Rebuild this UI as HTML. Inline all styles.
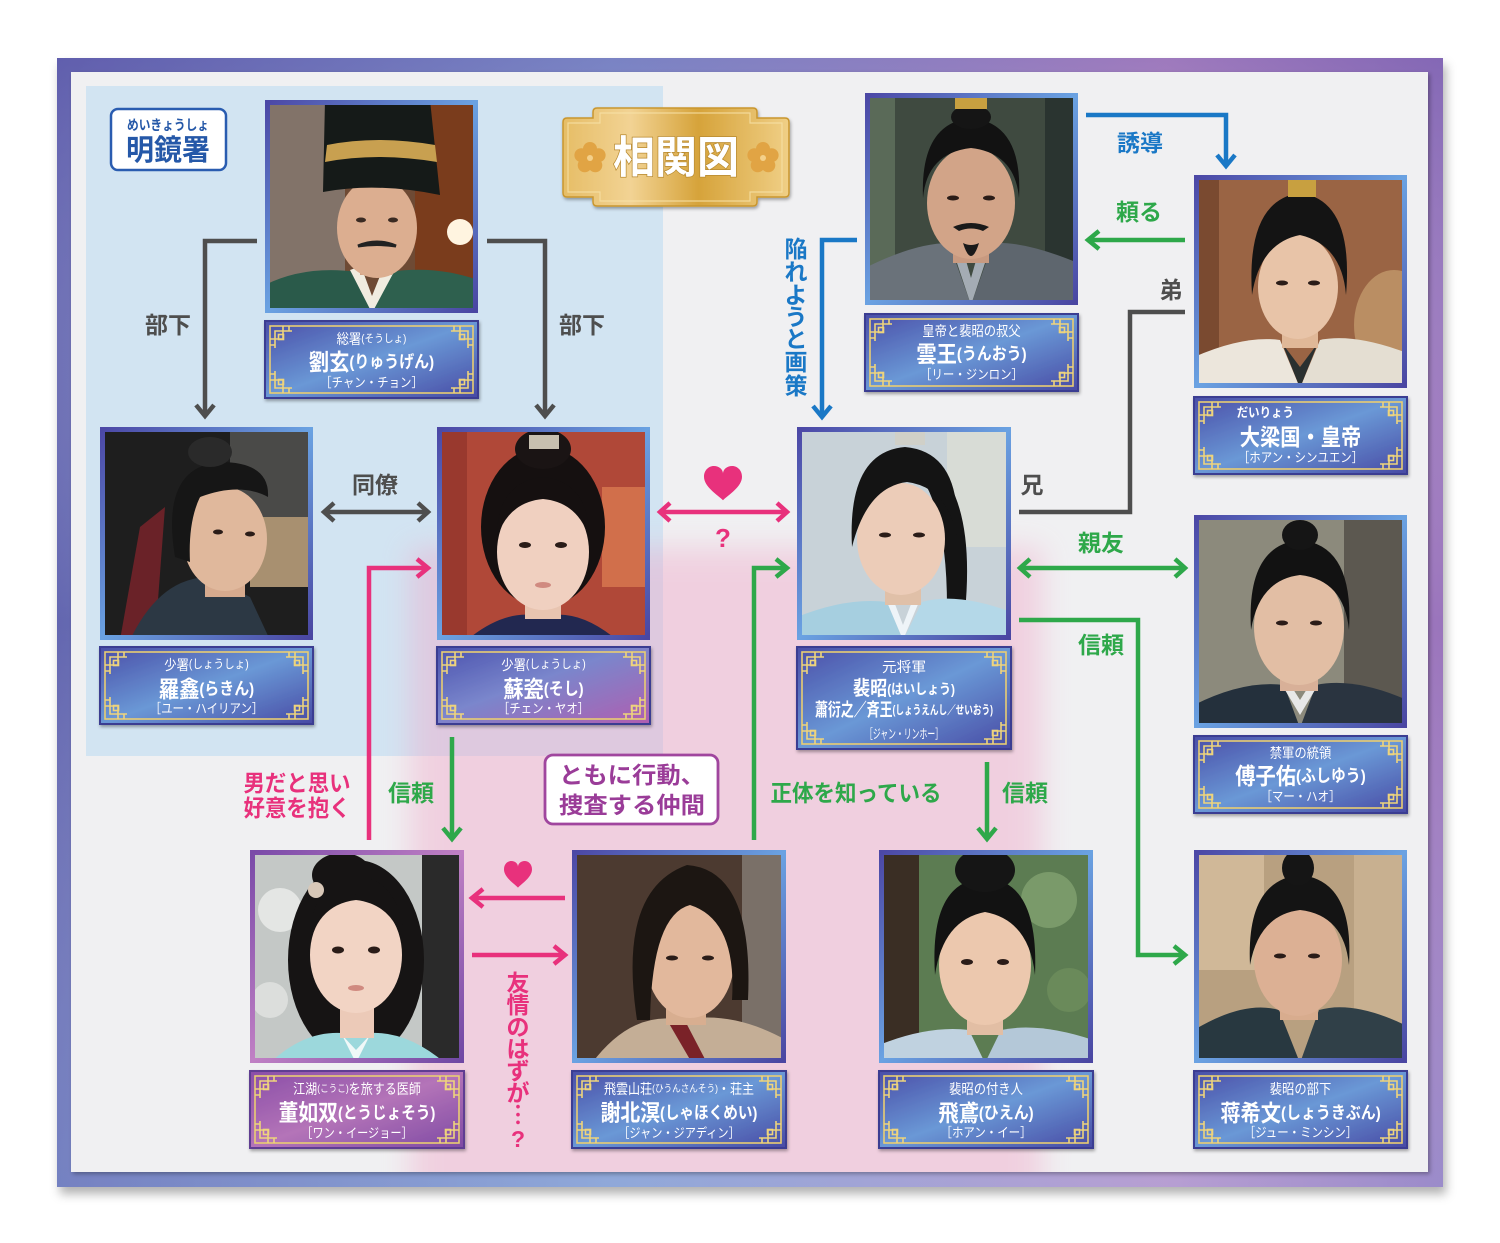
<!DOCTYPE html>
<html><head><meta charset="utf-8">
<style>
html,body{margin:0;padding:0;background:#fff;}
svg{display:block;font-family:"Liberation Sans","Noto Sans CJK JP",sans-serif;}
.lbl{font-weight:bold;font-size:23px;dominant-baseline:central;text-anchor:middle;}
.ct text{dominant-baseline:central;}
</style></head><body>
<svg width="1500" height="1243" viewBox="0 0 1500 1243" xmlns="http://www.w3.org/2000/svg">
<defs>
  <linearGradient id="frh" x1="0" y1="0" x2="1" y2="0">
    <stop offset="0" stop-color="#6466b0"/><stop offset=".4" stop-color="#8a9ed2"/><stop offset=".8" stop-color="#c290c8"/><stop offset="1" stop-color="#9a74bc"/>
  </linearGradient>
  <linearGradient id="frv" x1="0" y1="0" x2="0" y2="1">
    <stop offset="0" stop-color="#5a50a8" stop-opacity=".35"/><stop offset=".5" stop-color="#fff" stop-opacity="0"/><stop offset="1" stop-color="#9cc0ea" stop-opacity=".3"/>
  </linearGradient>
  <filter id="sh" x="-5%" y="-5%" width="110%" height="115%"><feDropShadow dx="3" dy="7" stdDeviation="5" flood-color="#000" flood-opacity=".3"/></filter>
  <filter id="sh2" x="-5%" y="-5%" width="110%" height="110%"><feDropShadow dx="2" dy="2" stdDeviation="2" flood-color="#000" flood-opacity=".3"/></filter>
  <filter id="sh3" x="-10%" y="-10%" width="120%" height="130%"><feDropShadow dx="1" dy="2" stdDeviation="1.5" flood-color="#000" flood-opacity=".35"/></filter>
  <filter id="blur" x="-20%" y="-20%" width="140%" height="140%"><feGaussianBlur stdDeviation="14"/></filter>
  <clipPath id="paper"><rect x="71" y="72" width="1357" height="1100"/></clipPath>
  <linearGradient id="cb" x1="0" y1="0" x2="1" y2="1">
    <stop offset="0" stop-color="#4a4ea8"/><stop offset=".5" stop-color="#6a98d6"/><stop offset="1" stop-color="#474aa4"/>
  </linearGradient>
  <linearGradient id="cs" x1="0" y1="0" x2="1" y2="1">
    <stop offset="0" stop-color="#4a52ae"/><stop offset=".45" stop-color="#7a86cc"/><stop offset="1" stop-color="#b05eb0"/>
  </linearGradient>
  <linearGradient id="cp" x1="0" y1="0" x2="1" y2="1">
    <stop offset="0" stop-color="#8a4ea8"/><stop offset=".5" stop-color="#b474b8"/><stop offset="1" stop-color="#7e4aa4"/>
  </linearGradient>
  <linearGradient id="pb" x1="0" y1="0" x2="1" y2="1">
    <stop offset="0" stop-color="#4c48a6"/><stop offset=".5" stop-color="#6aa2e2"/><stop offset="1" stop-color="#4a46a2"/>
  </linearGradient>
  <linearGradient id="pp" x1="0" y1="0" x2="1" y2="1">
    <stop offset="0" stop-color="#7a4aa8"/><stop offset=".5" stop-color="#c080c4"/><stop offset="1" stop-color="#7048a4"/>
  </linearGradient>
  <linearGradient id="gold" x1="0" y1="0" x2="1" y2="0">
    <stop offset="0" stop-color="#e6bd66"/><stop offset=".3" stop-color="#f2d394"/><stop offset=".6" stop-color="#d6a33a"/><stop offset="1" stop-color="#f0cf86"/>
  </linearGradient>
  <g id="cn" fill="none" stroke="#eed47c" stroke-width="1.6">
    <path d="M10,27 V10 H27"/>
    <path d="M5,18 H18 V5"/>
    <rect x="13.5" y="13.5" width="5" height="5"/>
    <path d="M5,24 H10 M24,5 V10"/>
  </g>
  <path id="heart" d="M0,0.9 C-0.3,0.6 -1,0.15 -1,-0.4 C-1,-0.8 -0.72,-1 -0.48,-1 C-0.2,-1 0,-0.8 0,-0.58 C0,-0.8 0.2,-1 0.48,-1 C0.72,-1 1,-0.8 1,-0.4 C1,0.15 0.3,0.6 0,0.9Z"/>
</defs>

<!-- frame -->
<rect x="57" y="58" width="1386" height="1129" fill="url(#frh)" filter="url(#sh)"/>
<rect x="57" y="58" width="1386" height="1129" fill="url(#frv)"/>
<rect x="71" y="72" width="1357" height="1100" fill="#f0f0f2" filter="url(#sh2)"/>

<g clip-path="url(#paper)">
  <rect x="86" y="86" width="577" height="670" fill="#d2e4f2"/>
  <rect x="410" y="548" width="632" height="680" fill="#f0a4c6" opacity=".42" filter="url(#blur)"/>
</g>

<!-- title plaque -->
<path d="M597,108 H753 Q757,108 757,112 V118 H785 Q789,118 789,122 V193 Q789,197 785,197 H757 V202 Q757,206 753,206 H597 Q593,206 593,202 V197 H567 Q563,197 563,193 V122 Q563,118 567,118 H593 V112 Q593,108 597,108Z" fill="url(#gold)" stroke="#c9962e" stroke-width="1.5" filter="url(#sh3)"/>
<path d="M600,113 H750 V123 H782 V192 H750 V201 H600 V192 H568 V123 H600Z" fill="none" stroke="#f6e2a8" stroke-width="1.2" opacity=".8"/>
<g fill="#e1a444">
  <g transform="translate(590,158)"><circle cx="0" cy="-9" r="7"/><circle cx="8.6" cy="-2.8" r="7"/><circle cx="5.3" cy="7.3" r="7"/><circle cx="-5.3" cy="7.3" r="7"/><circle cx="-8.6" cy="-2.8" r="7"/><circle r="3" fill="#f4d08a"/></g>
  <g transform="translate(763,158)"><circle cx="0" cy="-9" r="7"/><circle cx="8.6" cy="-2.8" r="7"/><circle cx="5.3" cy="7.3" r="7"/><circle cx="-5.3" cy="7.3" r="7"/><circle cx="-8.6" cy="-2.8" r="7"/><circle r="3" fill="#f4d08a"/></g>
</g>
<text x="676" y="158" font-size="44" font-weight="bold" fill="#fff" text-anchor="middle" dominant-baseline="central" textLength="126" lengthAdjust="spacingAndGlyphs" style="paint-order:stroke" stroke="#b88a30" stroke-width="1.5">相関図</text>

<!-- 明鏡署 -->
<rect x="111" y="109" width="115" height="61" rx="7" fill="#fff" stroke="#2a5cb0" stroke-width="2.5"/>
<text x="168" y="125" font-size="14" font-weight="bold" fill="#2558a8" text-anchor="middle" dominant-baseline="central" textLength="82" lengthAdjust="spacingAndGlyphs">めいきょうしょ</text>
<text x="168" y="151" font-size="29" font-weight="bold" fill="#2558a8" text-anchor="middle" dominant-baseline="central" textLength="84" lengthAdjust="spacingAndGlyphs">明鏡署</text>

<!-- connectors -->
<g fill="none" stroke-width="4.5" stroke-linejoin="miter">
  <g stroke="#4e4e4e">
    <path d="M257,241 H205 V414"/><polyline points="196,405 205,416 214,405"/>
    <path d="M487,241 H545 V414"/><polyline points="536,405 545,416 554,405"/>
    <path d="M326,512 H426"/><polyline points="334,503 324,512 334,521"/><polyline points="418,503 428,512 418,521"/>
    <path d="M1185,312 H1130 V512 H1019"/>
  </g>
  <g stroke="#1a78c6">
    <path d="M1086,115 H1226 V164"/><polyline points="1217,155 1226,166 1235,155"/>
    <path d="M857,240 H822 V415"/><polyline points="813,406 822,417 831,406"/>
  </g>
  <g stroke="#2ea84a">
    <path d="M1185,240 H1090"/><polyline points="1099,231 1088,240 1099,249"/>
    <path d="M452,737 V837"/><polyline points="443,828 452,839 461,828"/>
    <path d="M754,840 V568 H785"/><polyline points="776,559 787,568 776,577"/>
    <path d="M987,762 V837"/><polyline points="978,828 987,839 996,828"/>
    <path d="M1022,568 H1183"/><polyline points="1030,559 1020,568 1030,577"/><polyline points="1175,559 1185,568 1175,577"/>
    <path d="M1019,620 H1138 V955 H1183"/><polyline points="1174,946 1185,955 1174,964"/>
  </g>
  <g stroke="#e8317c">
    <path d="M662,512 H785"/><polyline points="670,503 660,512 670,521"/><polyline points="777,503 787,512 777,521"/>
    <path d="M369,840 V568 H426"/><polyline points="417,559 428,568 417,577"/>
    <path d="M565,898 H474"/><polyline points="483,889 472,898 483,907"/>
    <path d="M472,955 H563"/><polyline points="554,946 565,955 554,964"/>
  </g>
</g>
<use href="#heart" transform="translate(723,484) scale(19,18)" fill="#e8317c"/>
<use href="#heart" transform="translate(518,875) scale(14,14)" fill="#e8317c"/>
<text x="723" y="538" font-size="26" font-weight="bold" fill="#e8317c" text-anchor="middle" dominant-baseline="central">?</text>

<!-- labels -->
<text class="lbl" x="168" y="325" fill="#4e4e4e">部下</text>
<text class="lbl" x="582" y="325" fill="#4e4e4e">部下</text>
<text class="lbl" x="375" y="485" fill="#4e4e4e">同僚</text>
<text class="lbl" x="1140" y="143" fill="#1a78c6">誘導</text>
<text class="lbl" x="1139" y="212" fill="#2ea84a">頼る</text>
<text class="lbl" x="1171" y="290" fill="#4e4e4e">弟</text>
<text class="lbl" x="1032" y="485" fill="#4e4e4e">兄</text>
<text class="lbl" x="1101" y="543" fill="#2ea84a">親友</text>
<text class="lbl" x="1101" y="645" fill="#2ea84a">信頼</text>
<text class="lbl" x="411" y="793" fill="#2ea84a">信頼</text>
<text class="lbl" x="856" y="793" fill="#2ea84a" textLength="171" lengthAdjust="spacingAndGlyphs">正体を知っている</text>
<text class="lbl" x="1025" y="793" fill="#2ea84a">信頼</text>
<text class="lbl" x="297" y="783" fill="#e8317c" textLength="107" lengthAdjust="spacingAndGlyphs">男だと思い</text>
<text class="lbl" x="297" y="808" fill="#e8317c" textLength="107" lengthAdjust="spacingAndGlyphs">好意を抱く</text>
<text class="lbl" fill="#1a78c6" font-size="23">
  <tspan x="796" y="249">陥</tspan><tspan x="796" y="272">れ</tspan><tspan x="796" y="295">よ</tspan><tspan x="796" y="317">う</tspan><tspan x="796" y="339">と</tspan><tspan x="796" y="362">画</tspan><tspan x="796" y="386">策</tspan>
</text>
<text class="lbl" fill="#e8317c" font-size="22">
  <tspan x="518" y="983">友</tspan><tspan x="518" y="1005">情</tspan><tspan x="518" y="1027">の</tspan><tspan x="518" y="1049">は</tspan><tspan x="518" y="1071">ず</tspan><tspan x="518" y="1093">が</tspan><tspan x="518" y="1115">︙</tspan><tspan x="518" y="1139">?</tspan>
</text>
<rect x="545" y="755" width="173" height="69" rx="8" fill="#fff" stroke="#a0469e" stroke-width="2.8"/>
<text class="lbl" x="632" y="775" font-size="25" fill="#9a3c98" textLength="146" lengthAdjust="spacingAndGlyphs">ともに行動、</text>
<text class="lbl" x="632" y="805" font-size="25" fill="#9a3c98" textLength="146" lengthAdjust="spacingAndGlyphs">捜査する仲間</text>

<!-- PHOTOS -->
<!-- 1 劉玄 -->
<svg x="265" y="100" width="213" height="213" viewBox="0 0 213 213">
  <rect width="213" height="213" fill="#6e4a34"/>
  <rect width="80" height="213" fill="#8a8480" opacity=".7"/>
  <rect x="150" width="63" height="213" fill="#7a3c1c"/>
  <circle cx="195" cy="132" r="13" fill="#fff4e0"/>
  <path d="M0,213 V185 Q40,165 92,172 L107,213Z" fill="#2a5a4a"/>
  <path d="M213,213 V180 Q170,165 125,172 L107,213Z" fill="#2e604e"/>
  <path d="M85,170 L107,213 L130,170 L119,166 L107,196 L96,166Z" fill="#f0ece0"/>
  <rect x="95" y="150" width="32" height="25" fill="#d2a284"/>
  <ellipse cx="112" cy="128" rx="40" ry="50" fill="#dcae90"/>
  <path d="M60,0 H165 L175,95 Q112,82 58,92Z" fill="#151a18"/>
  <path d="M62,45 Q112,35 170,45 L172,62 Q112,52 60,62Z" fill="#c8a050"/>
  <path d="M93,146 Q112,138 131,146 Q112,143 93,146Z" fill="#222" stroke="#222" stroke-width="3"/>
  <ellipse cx="96" cy="120" rx="5" ry="2.5" fill="#3a2a22"/><ellipse cx="128" cy="120" rx="5" ry="2.5" fill="#3a2a22"/>
</svg>
<!-- 2 雲王 -->
<svg x="865" y="93" width="213" height="212" viewBox="0 0 213 212">
  <rect width="213" height="212" fill="#3f4a40"/>
  <rect width="30" height="212" fill="#5a6a58"/>
  <rect x="180" width="33" height="212" fill="#2a3430"/>
  <path d="M0,212 V175 Q50,150 84,150 L106,212Z" fill="#6a727a"/>
  <path d="M213,212 V170 Q160,148 128,150 L106,212Z" fill="#5e666e"/>
  <path d="M86,152 L106,212 L126,152 L116,150 L106,185 L96,150Z" fill="#a4acb4"/>
  <rect x="88" y="140" width="36" height="30" fill="#c89a80"/>
  <ellipse cx="106" cy="110" rx="44" ry="56" fill="#d2a488"/>
  <path d="M58,105 Q55,30 106,25 Q158,30 154,105 Q150,60 106,55 Q62,60 58,105Z" fill="#121212"/>
  <ellipse cx="106" cy="24" rx="20" ry="12" fill="#151515"/>
  <rect x="90" y="0" width="32" height="16" fill="#c8a040"/>
  <path d="M88,134 Q106,126 124,134 L118,138 Q106,133 94,138Z" fill="#1a1a1a"/>
  <path d="M98,150 Q106,176 114,150 Q106,154 98,150Z" fill="#1a1a1a"/>
  <ellipse cx="88" cy="105" rx="6" ry="2.5" fill="#2a1c18"/><ellipse cx="124" cy="105" rx="6" ry="2.5" fill="#2a1c18"/>
</svg>
<!-- 3 皇帝 -->
<svg x="1194" y="175" width="213" height="213" viewBox="0 0 213 213">
  <rect width="213" height="213" fill="#9a6444"/>
  <ellipse cx="200" cy="150" rx="40" ry="55" fill="#c8a070" opacity=".7"/>
  <rect width="25" height="213" fill="#7a4a30"/>
  <path d="M0,213 V182 Q50,160 86,165 L106,213Z" fill="#ece6dc"/>
  <path d="M213,213 V178 Q160,158 126,165 L106,213Z" fill="#e4ded2"/>
  <path d="M88,168 L106,213 L124,168 L106,192Z" fill="#2a3030"/>
  <rect x="88" y="145" width="36" height="28" fill="#e0b898"/>
  <ellipse cx="104" cy="112" rx="40" ry="52" fill="#e8c4a8"/>
  <path d="M58,120 Q52,25 106,18 Q160,25 152,120 Q148,70 106,60 Q66,68 58,120Z" fill="#141414"/>
  <rect x="94" y="0" width="28" height="22" fill="#c8a040"/>
  <ellipse cx="88" cy="108" rx="6" ry="2.5" fill="#2a1c18"/><ellipse cx="120" cy="108" rx="6" ry="2.5" fill="#2a1c18"/>
</svg>
<!-- 4 羅鑫 -->
<svg x="100" y="427" width="213" height="213" viewBox="0 0 213 213">
  <rect width="213" height="213" fill="#1e1e1e"/>
  <rect x="130" width="83" height="100" fill="#4a4a48"/>
  <rect x="150" y="90" width="63" height="70" fill="#a89070"/>
  <path d="M20,213 L40,100 L65,80 L55,213Z" fill="#6a2228"/>
  <path d="M30,213 Q60,150 110,150 L150,170 L170,213Z" fill="#2c3844"/>
  <rect x="105" y="140" width="40" height="30" fill="#d6aa8e"/>
  <ellipse cx="125" cy="112" rx="42" ry="52" fill="#e0b89c"/>
  <path d="M75,130 Q60,40 120,35 Q170,35 168,70 Q140,55 100,70 Q88,95 90,135Z" fill="#161616"/>
  <ellipse cx="110" cy="25" rx="22" ry="15" fill="#2a2a2a"/>
  <ellipse cx="118" cy="105" rx="5" ry="2.5" fill="#2a1c18"/><ellipse cx="150" cy="107" rx="5" ry="2.5" fill="#2a1c18"/>
</svg>
<!-- 5 蘇瓷 -->
<svg x="437" y="427" width="213" height="213" viewBox="0 0 213 213">
  <rect width="213" height="213" fill="#b04838"/>
  <rect x="165" y="60" width="48" height="100" fill="#e88a58" opacity=".6"/>
  <rect width="30" height="213" fill="#8a3028" opacity=".6"/>
  <path d="M30,213 Q70,180 106,190 Q140,180 180,213Z" fill="#222850"/>
  <ellipse cx="106" cy="100" rx="62" ry="80" fill="#151010"/>
  <rect x="88" y="160" width="36" height="32" fill="#e8c4b0"/>
  <ellipse cx="106" cy="125" rx="46" ry="58" fill="#f0d0c0"/>
  <path d="M60,110 Q60,55 106,50 Q152,55 152,110 Q140,75 106,72 Q72,75 60,110Z" fill="#151010"/>
  <ellipse cx="106" cy="22" rx="28" ry="20" fill="#1a1414"/>
  <rect x="92" y="8" width="30" height="14" fill="#c8c0b0"/>
  <ellipse cx="88" cy="118" rx="6" ry="3" fill="#2a1c18"/><ellipse cx="124" cy="118" rx="6" ry="3" fill="#2a1c18"/>
  <ellipse cx="106" cy="158" rx="8" ry="3" fill="#d08a80"/>
</svg>
<!-- 6 裴昭 -->
<svg x="797" y="427" width="214" height="213" viewBox="0 0 214 213">
  <rect width="214" height="213" fill="#c8d2d8"/>
  <rect x="150" width="64" height="120" fill="#d8dcd6"/>
  <path d="M140,40 Q178,80 168,185 L150,180 Q150,100 130,60Z" fill="#141414"/>
  <path d="M0,213 V190 Q50,170 90,175 L106,213Z" fill="#a6cfe0"/>
  <path d="M214,213 V185 Q160,165 125,175 L106,213Z" fill="#b4d8e8"/>
  <path d="M90,175 L106,213 L122,175 L116,172 L106,198 L96,172Z" fill="#eef4f8"/>
  <rect x="88" y="148" width="36" height="30" fill="#e0c0a8"/>
  <ellipse cx="104" cy="112" rx="44" ry="56" fill="#ecccb8"/>
  <path d="M55,120 Q50,25 108,20 Q165,25 160,110 Q150,60 110,55 Q70,60 55,120Z" fill="#141414"/>
  <rect x="98" y="2" width="30" height="16" fill="#d0d0c8"/>
  <ellipse cx="88" cy="108" rx="6" ry="2.5" fill="#2a1c18"/><ellipse cx="122" cy="108" rx="6" ry="2.5" fill="#2a1c18"/>
</svg>
<!-- 7 傅子佑 -->
<svg x="1194" y="515" width="213" height="213" viewBox="0 0 213 213">
  <rect width="213" height="213" fill="#8c8a7c"/>
  <rect x="150" width="63" height="213" fill="#5c5850"/>
  <path d="M0,213 V190 Q50,165 90,170 L106,213Z" fill="#24303c"/>
  <path d="M213,213 V185 Q160,162 122,170 L106,213Z" fill="#2a3440"/>
  <path d="M88,170 L106,200 L124,170 L118,166 L106,185 L94,166Z" fill="#e8e8e8"/>
  <rect x="86" y="148" width="38" height="28" fill="#d8b098"/>
  <ellipse cx="105" cy="112" rx="45" ry="58" fill="#e2bea4"/>
  <path d="M57,115 Q52,30 106,25 Q160,30 155,115 Q150,65 106,60 Q65,65 57,115Z" fill="#121212"/>
  <ellipse cx="106" cy="20" rx="18" ry="15" fill="#151515"/>
  <ellipse cx="88" cy="108" rx="6" ry="2.5" fill="#2a1c18"/><ellipse cx="122" cy="108" rx="6" ry="2.5" fill="#2a1c18"/>
</svg>
<!-- 8 董如双 -->
<svg x="250" y="850" width="214" height="213" viewBox="0 0 214 213">
  <rect width="214" height="213" fill="#c4c8c6"/>
  <circle cx="30" cy="60" r="22" fill="#e4e6e4"/><circle cx="20" cy="150" r="18" fill="#dcdedc"/>
  <rect x="172" width="42" height="213" fill="#2a2a2a"/>
  <ellipse cx="106" cy="110" rx="68" ry="100" fill="#161414"/>
  <path d="M20,213 Q60,175 106,185 Q150,175 195,213Z" fill="#9cd8dc"/>
  <path d="M92,185 L106,213 L120,185 L106,200Z" fill="#f0f8f8"/>
  <rect x="90" y="150" width="34" height="38" fill="#eccab8"/>
  <ellipse cx="106" cy="105" rx="46" ry="58" fill="#f2d4c4"/>
  <path d="M58,105 Q58,30 106,25 Q155,30 155,105 Q148,55 106,50 Q64,55 58,105Z" fill="#161414"/>
  <ellipse cx="92" cy="25" rx="30" ry="22" fill="#161414"/>
  <circle cx="66" cy="40" r="8" fill="#d8c8b8"/>
  <ellipse cx="88" cy="100" rx="6" ry="3.5" fill="#2a1c18"/><ellipse cx="124" cy="100" rx="6" ry="3.5" fill="#2a1c18"/>
  <ellipse cx="106" cy="138" rx="8" ry="3" fill="#d08a80"/>
</svg>
<!-- 9 謝北溟 -->
<svg x="572" y="850" width="214" height="213" viewBox="0 0 214 213">
  <rect width="214" height="213" fill="#4c3a30"/>
  <rect x="170" width="44" height="213" fill="#7a7068"/>
  <path d="M20,213 Q60,160 110,170 Q160,160 214,190 V213Z" fill="#c4ae96"/>
  <path d="M95,170 L120,213 L135,213 L110,165Z" fill="#7a2228"/>
  <rect x="94" y="145" width="40" height="30" fill="#d8ae90"/>
  <ellipse cx="118" cy="110" rx="44" ry="58" fill="#e2b89c"/>
  <path d="M65,170 Q45,40 115,15 Q182,20 176,150 L160,150 Q165,70 118,55 Q80,65 78,170Z" fill="#1c1612"/>
  <ellipse cx="100" cy="108" rx="6" ry="2.5" fill="#2a1c18"/><ellipse cx="136" cy="108" rx="6" ry="2.5" fill="#2a1c18"/>
</svg>
<!-- 10 飛鳶 -->
<svg x="879" y="850" width="214" height="213" viewBox="0 0 214 213">
  <rect width="214" height="213" fill="#5c7c52"/>
  <circle cx="170" cy="50" r="28" fill="#7a9a6a"/><circle cx="190" cy="140" r="22" fill="#6a8a5a"/>
  <rect width="40" height="213" fill="#3a2e24"/>
  <path d="M0,213 V195 Q50,175 90,180 L106,213Z" fill="#c0d2e0"/>
  <path d="M214,213 V190 Q160,172 122,180 L106,213Z" fill="#b4c8d8"/>
  <rect x="88" y="150" width="36" height="35" fill="#e2bea4"/>
  <ellipse cx="106" cy="115" rx="46" ry="60" fill="#ecc8ae"/>
  <path d="M56,125 Q50,30 106,28 Q160,30 156,125 Q150,70 106,62 Q64,70 56,125Z" fill="#121212"/>
  <ellipse cx="106" cy="20" rx="30" ry="22" fill="#151515"/>
  <ellipse cx="88" cy="112" rx="6" ry="3" fill="#2a1c18"/><ellipse cx="124" cy="112" rx="6" ry="3" fill="#2a1c18"/>
</svg>
<!-- 11 蒋希文 -->
<svg x="1194" y="850" width="213" height="213" viewBox="0 0 213 213">
  <rect width="213" height="213" fill="#b8a080"/>
  <rect width="70" height="120" fill="#d0b898"/>
  <rect x="160" width="53" height="213" fill="#c8b090"/>
  <path d="M0,213 V180 Q50,150 85,160 L106,213Z" fill="#283840"/>
  <path d="M213,213 V176 Q160,150 125,160 L106,213Z" fill="#304048"/>
  <rect x="86" y="140" width="38" height="30" fill="#d8ac8e"/>
  <ellipse cx="104" cy="110" rx="44" ry="56" fill="#dcb094"/>
  <path d="M56,115 Q52,30 106,25 Q160,30 155,115 Q150,65 106,60 Q65,65 56,115Z" fill="#141414"/>
  <ellipse cx="104" cy="18" rx="16" ry="18" fill="#151515"/>
  <ellipse cx="86" cy="106" rx="6" ry="2.5" fill="#2a1c18"/><ellipse cx="120" cy="106" rx="6" ry="2.5" fill="#2a1c18"/>
</svg>

<!-- photo borders -->
<g fill="none" stroke="url(#pb)" stroke-width="5">
  <rect x="267.5" y="102.5" width="208" height="208"/>
  <rect x="867.5" y="95.5" width="208" height="207"/>
  <rect x="1196.5" y="177.5" width="208" height="208"/>
  <rect x="102.5" y="429.5" width="208" height="208"/>
  <rect x="439.5" y="429.5" width="208" height="208"/>
  <rect x="799.5" y="429.5" width="209" height="208"/>
  <rect x="1196.5" y="517.5" width="208" height="208"/>
  <rect x="574.5" y="852.5" width="209" height="208"/>
  <rect x="881.5" y="852.5" width="209" height="208"/>
  <rect x="1196.5" y="852.5" width="208" height="208"/>
</g>
<rect x="252.5" y="852.5" width="209" height="208" fill="none" stroke="url(#pp)" stroke-width="5"/>

<!-- CARDS -->
<!-- 劉玄 -->
<g transform="translate(265,321)" filter="url(#sh3)">
  <rect width="213" height="77" fill="url(#cb)" stroke="#3b3e92" stroke-width="2"/>
  <rect x="5" y="5" width="203" height="67" fill="none" stroke="#e9cd72" stroke-width="1.6"/>
  <use href="#cn"/><use href="#cn" transform="translate(213,0) scale(-1,1)"/><use href="#cn" transform="translate(0,77) scale(1,-1)"/><use href="#cn" transform="translate(213,77) scale(-1,-1)"/>
  <g class="ct" transform="translate(106.5,0) scale(0.88,1)" text-anchor="middle" fill="#fff">
    <text y="18" font-size="14">総署<tspan font-size="11">(そうしょ)</tspan></text>
    <text y="41" font-size="23" font-weight="bold">劉玄<tspan font-size="17">(りゅうげん)</tspan></text>
    <text y="62" font-size="13">［チャン・チョン］</text>
  </g>
</g>
<!-- 雲王 -->
<g transform="translate(865,314)" filter="url(#sh3)">
  <rect width="213" height="77" fill="url(#cb)" stroke="#3b3e92" stroke-width="2"/>
  <rect x="5" y="5" width="203" height="67" fill="none" stroke="#e9cd72" stroke-width="1.6"/>
  <use href="#cn"/><use href="#cn" transform="translate(213,0) scale(-1,1)"/><use href="#cn" transform="translate(0,77) scale(1,-1)"/><use href="#cn" transform="translate(213,77) scale(-1,-1)"/>
  <g class="ct" transform="translate(106.5,0) scale(0.88,1)" text-anchor="middle" fill="#fff">
    <text y="17" font-size="14">皇帝と裴昭の叔父</text>
    <text y="40" font-size="23" font-weight="bold">雲王<tspan font-size="17">(うんおう)</tspan></text>
    <text y="61" font-size="13">［リー・ジンロン］</text>
  </g>
</g>
<!-- 皇帝 -->
<g transform="translate(1194,397)" filter="url(#sh3)">
  <rect width="213" height="77" fill="url(#cb)" stroke="#3b3e92" stroke-width="2"/>
  <rect x="5" y="5" width="203" height="67" fill="none" stroke="#e9cd72" stroke-width="1.6"/>
  <use href="#cn"/><use href="#cn" transform="translate(213,0) scale(-1,1)"/><use href="#cn" transform="translate(0,77) scale(1,-1)"/><use href="#cn" transform="translate(213,77) scale(-1,-1)"/>
  <g class="ct" transform="translate(106.5,0) scale(0.88,1)" text-anchor="middle" fill="#fff">
    <text x="-40" y="16" font-size="13" font-weight="bold">だいりょう</text>
    <text y="40" font-size="23" font-weight="bold">大梁国・皇帝</text>
    <text y="61" font-size="13">［ホアン・シンユエン］</text>
  </g>
</g>
<!-- 羅鑫 -->
<g transform="translate(100,647)" filter="url(#sh3)">
  <rect width="213" height="77" fill="url(#cb)" stroke="#3b3e92" stroke-width="2"/>
  <rect x="5" y="5" width="203" height="67" fill="none" stroke="#e9cd72" stroke-width="1.6"/>
  <use href="#cn"/><use href="#cn" transform="translate(213,0) scale(-1,1)"/><use href="#cn" transform="translate(0,77) scale(1,-1)"/><use href="#cn" transform="translate(213,77) scale(-1,-1)"/>
  <g class="ct" transform="translate(106.5,0) scale(0.88,1)" text-anchor="middle" fill="#fff">
    <text y="18" font-size="14">少署<tspan font-size="12">(しょうしょ)</tspan></text>
    <text y="42" font-size="23" font-weight="bold">羅鑫<tspan font-size="17">(らきん)</tspan></text>
    <text y="62" font-size="13">［ユー・ハイリアン］</text>
  </g>
</g>
<!-- 蘇瓷 -->
<g transform="translate(437,647)" filter="url(#sh3)">
  <rect width="213" height="77" fill="url(#cs)" stroke="#3b3e92" stroke-width="2"/>
  <rect x="5" y="5" width="203" height="67" fill="none" stroke="#e9cd72" stroke-width="1.6"/>
  <use href="#cn"/><use href="#cn" transform="translate(213,0) scale(-1,1)"/><use href="#cn" transform="translate(0,77) scale(1,-1)"/><use href="#cn" transform="translate(213,77) scale(-1,-1)"/>
  <g class="ct" transform="translate(106.5,0) scale(0.88,1)" text-anchor="middle" fill="#fff">
    <text y="18" font-size="14">少署<tspan font-size="12">(しょうしょ)</tspan></text>
    <text y="42" font-size="23" font-weight="bold">蘇瓷<tspan font-size="17">(そし)</tspan></text>
    <text y="62" font-size="13">［チェン・ヤオ］</text>
  </g>
</g>
<!-- 裴昭 -->
<g transform="translate(797,647)" filter="url(#sh3)">
  <rect width="214" height="102" fill="url(#cb)" stroke="#3b3e92" stroke-width="2"/>
  <rect x="5" y="5" width="204" height="92" fill="none" stroke="#e9cd72" stroke-width="1.6"/>
  <use href="#cn"/><use href="#cn" transform="translate(214,0) scale(-1,1)"/><use href="#cn" transform="translate(0,102) scale(1,-1)"/><use href="#cn" transform="translate(214,102) scale(-1,-1)"/>
  <g class="ct" transform="translate(107,0)" text-anchor="middle" fill="#fff">
    <text y="20" font-size="14" textLength="44" lengthAdjust="spacingAndGlyphs">元将軍</text>
    <text y="42" font-size="20" font-weight="bold" textLength="102" lengthAdjust="spacingAndGlyphs">裴昭<tspan font-size="14">(はいしょう)</tspan></text>
    <text y="63" font-size="18" font-weight="bold" textLength="178" lengthAdjust="spacingAndGlyphs">蕭衍之／斉王<tspan font-size="12">(しょうえんし／せいおう)</tspan></text>
    <text y="87" font-size="13" textLength="78" lengthAdjust="spacingAndGlyphs">［ジャン・リンホー］</text>
  </g>
</g>
<!-- 傅子佑 -->
<g transform="translate(1194,736)" filter="url(#sh3)">
  <rect width="213" height="77" fill="url(#cb)" stroke="#3b3e92" stroke-width="2"/>
  <rect x="5" y="5" width="203" height="67" fill="none" stroke="#e9cd72" stroke-width="1.6"/>
  <use href="#cn"/><use href="#cn" transform="translate(213,0) scale(-1,1)"/><use href="#cn" transform="translate(0,77) scale(1,-1)"/><use href="#cn" transform="translate(213,77) scale(-1,-1)"/>
  <g class="ct" transform="translate(106.5,0) scale(0.88,1)" text-anchor="middle" fill="#fff">
    <text y="17" font-size="14">禁軍の統領</text>
    <text y="40" font-size="23" font-weight="bold">傅子佑<tspan font-size="17">(ふしゆう)</tspan></text>
    <text y="61" font-size="13">［マー・ハオ］</text>
  </g>
</g>
<!-- 董如双 -->
<g transform="translate(250,1071)" filter="url(#sh3)">
  <rect width="214" height="77" fill="url(#cp)" stroke="#5e3e92" stroke-width="2"/>
  <rect x="5" y="5" width="204" height="67" fill="none" stroke="#e9cd72" stroke-width="1.6"/>
  <use href="#cn"/><use href="#cn" transform="translate(214,0) scale(-1,1)"/><use href="#cn" transform="translate(0,77) scale(1,-1)"/><use href="#cn" transform="translate(214,77) scale(-1,-1)"/>
  <g class="ct" transform="translate(107,0) scale(0.86,1)" text-anchor="middle" fill="#fff">
    <text y="18" font-size="14">江湖<tspan font-size="10">(こうこ)</tspan>を旅する医師</text>
    <text y="42" font-size="23" font-weight="bold">董如双<tspan font-size="17">(とうじょそう)</tspan></text>
    <text y="62" font-size="13">［ワン・イージョー］</text>
  </g>
</g>
<!-- 謝北溟 -->
<g transform="translate(572,1071)" filter="url(#sh3)">
  <rect width="214" height="77" fill="url(#cb)" stroke="#3b3e92" stroke-width="2"/>
  <rect x="5" y="5" width="204" height="67" fill="none" stroke="#e9cd72" stroke-width="1.6"/>
  <use href="#cn"/><use href="#cn" transform="translate(214,0) scale(-1,1)"/><use href="#cn" transform="translate(0,77) scale(1,-1)"/><use href="#cn" transform="translate(214,77) scale(-1,-1)"/>
  <g class="ct" transform="translate(107,0) scale(0.86,1)" text-anchor="middle" fill="#fff">
    <text y="18" font-size="14">飛雲山荘<tspan font-size="10">(ひうんさんそう)</tspan>・荘主</text>
    <text y="42" font-size="23" font-weight="bold">謝北溟<tspan font-size="17">(しゃほくめい)</tspan></text>
    <text y="62" font-size="13">［ジャン・ジアディン］</text>
  </g>
</g>
<!-- 飛鳶 -->
<g transform="translate(879,1071)" filter="url(#sh3)">
  <rect width="214" height="77" fill="url(#cb)" stroke="#3b3e92" stroke-width="2"/>
  <rect x="5" y="5" width="204" height="67" fill="none" stroke="#e9cd72" stroke-width="1.6"/>
  <use href="#cn"/><use href="#cn" transform="translate(214,0) scale(-1,1)"/><use href="#cn" transform="translate(0,77) scale(1,-1)"/><use href="#cn" transform="translate(214,77) scale(-1,-1)"/>
  <g class="ct" transform="translate(107,0) scale(0.88,1)" text-anchor="middle" fill="#fff">
    <text y="18" font-size="14">裴昭の付き人</text>
    <text y="42" font-size="23" font-weight="bold">飛鳶<tspan font-size="17">(ひえん)</tspan></text>
    <text y="62" font-size="13">［ホアン・イー］</text>
  </g>
</g>
<!-- 蒋希文 -->
<g transform="translate(1194,1071)" filter="url(#sh3)">
  <rect width="213" height="77" fill="url(#cb)" stroke="#3b3e92" stroke-width="2"/>
  <rect x="5" y="5" width="203" height="67" fill="none" stroke="#e9cd72" stroke-width="1.6"/>
  <use href="#cn"/><use href="#cn" transform="translate(213,0) scale(-1,1)"/><use href="#cn" transform="translate(0,77) scale(1,-1)"/><use href="#cn" transform="translate(213,77) scale(-1,-1)"/>
  <g class="ct" transform="translate(106.5,0) scale(0.88,1)" text-anchor="middle" fill="#fff">
    <text y="18" font-size="14">裴昭の部下</text>
    <text y="42" font-size="23" font-weight="bold">蒋希文<tspan font-size="17">(しょうきぶん)</tspan></text>
    <text y="62" font-size="13">［ジュー・ミンシン］</text>
  </g>
</g>
</svg>
</body></html>
